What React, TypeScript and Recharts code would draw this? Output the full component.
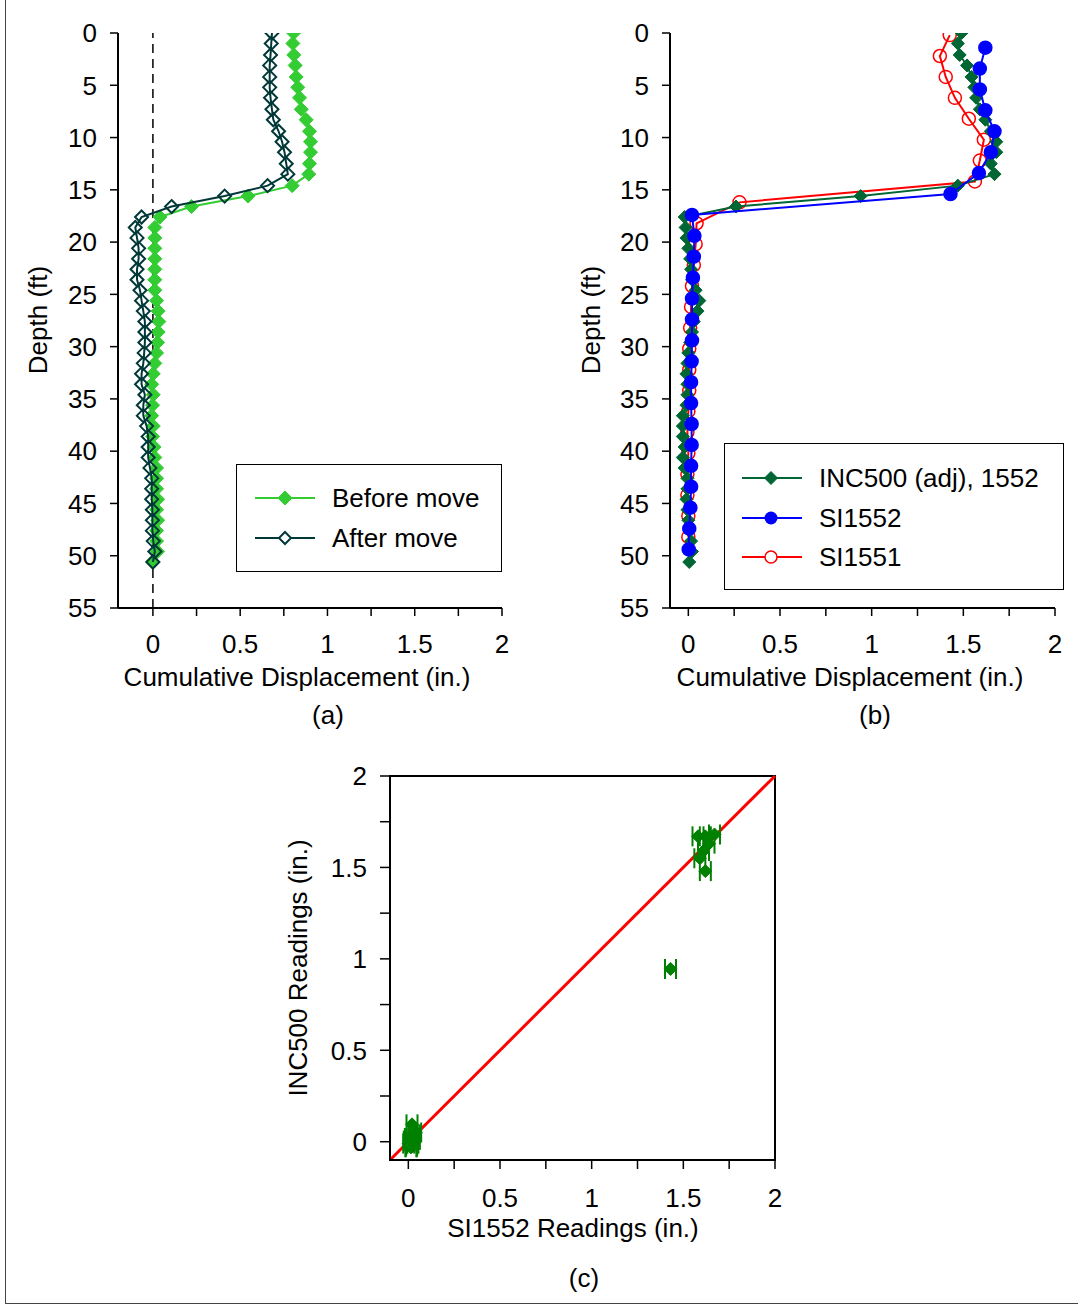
import React from 'react';
import {
  ScatterChart,
  Scatter,
  XAxis,
  YAxis,
  ReferenceLine,
  ReferenceArea,
  ErrorBar,
} from 'recharts';

// depth profiles, panel (a) and INC500 in (b)
const depthA = [0, 1, 2.1, 3.1, 4.2, 5.2, 6.2, 7.3, 8.3, 9.4, 10.4, 11.4, 12.5, 13.5, 14.6, 15.6, 16.6, 17.6, 18.6, 19.6, 20.6, 21.6, 22.6, 23.6, 24.6, 25.6, 26.6, 27.6, 28.6, 29.6, 30.6, 31.6, 32.6, 33.6, 34.6, 35.6, 36.6, 37.6, 38.6, 39.6, 40.6, 41.6, 42.6, 43.6, 44.6, 45.6, 46.6, 47.6, 48.6, 49.6, 50.6];
const beforeMove = [0.806, 0.802, 0.807, 0.815, 0.821, 0.83, 0.84, 0.85, 0.878, 0.897, 0.903, 0.903, 0.897, 0.893, 0.798, 0.545, 0.221, 0.04, 0.011, 0.011, 0.011, 0.011, 0.011, 0.011, 0.011, 0.021, 0.03, 0.034, 0.03, 0.027, 0.021, 0.011, 0.002, -0.007, 0.002, -0.002, -0.007, 0.002, -0.002, 0.007, 0.011, 0.021, 0.021, 0.021, 0.027, 0.021, 0.027, 0.021, 0.021, 0.027, -0.002];
const afterMove = [0.682, 0.678, 0.674, 0.669, 0.669, 0.669, 0.674, 0.682, 0.69, 0.72, 0.74, 0.754, 0.764, 0.773, 0.657, 0.411, 0.107, -0.065, -0.101, -0.091, -0.082, -0.082, -0.091, -0.091, -0.074, -0.065, -0.055, -0.046, -0.046, -0.046, -0.05, -0.055, -0.065, -0.065, -0.046, -0.055, -0.055, -0.036, -0.027, -0.027, -0.027, -0.017, -0.007, -0.007, -0.007, -0.003, -0.003, -0.003, 0.002, 0.011, 0.0];
const inc500 = [1.49, 1.47, 1.48, 1.52, 1.545, 1.56, 1.57, 1.59, 1.62, 1.65, 1.68, 1.68, 1.65, 1.67, 1.47, 0.94, 0.26, -0.02, -0.015, -0.01, 0.0, 0.01, 0.015, 0.02, 0.04, 0.06, 0.05, 0.03, 0.02, 0.01, 0.0, -0.005, -0.01, -0.005, -0.005, -0.01, -0.03, -0.03, -0.03, -0.02, -0.03, -0.02, -0.005, -0.005, -0.01, -0.005, 0.0, 0.005, 0.015, 0.02, 0.005];

// SI probes, 2 ft readings
const si1552Depth = [1.4, 3.4, 5.4, 7.4, 9.4, 11.4, 13.4, 15.4, 17.4, 19.4, 21.4, 23.4, 25.4, 27.4, 29.4, 31.4, 33.4, 35.4, 37.4, 39.4, 41.4, 43.4, 45.4, 47.4, 49.4];
const si1552 = [1.62, 1.59, 1.59, 1.62, 1.67, 1.65, 1.585, 1.43, 0.02, 0.033, 0.03, 0.025, 0.02, 0.02, 0.02, 0.018, 0.015, 0.015, 0.018, 0.018, 0.015, 0.015, 0.011, 0.005, 0.002];
const si1551Depth = [0.2, 2.2, 4.2, 6.2, 8.2, 10.2, 12.2, 14.2, 16.2, 18.2, 20.2, 22.2, 24.2, 26.2, 28.2, 30.2, 32.2, 34.2, 36.2, 38.2, 40.2, 42.2, 44.2, 46.2, 48.2];
const si1551 = [1.426, 1.372, 1.404, 1.454, 1.53, 1.612, 1.59, 1.563, 0.279, 0.045, 0.04, 0.03, 0.02, 0.015, 0.01, 0.005, 0.005, 0.005, 0.0, -0.005, 0.0, -0.005, -0.005, 0.0, 0.0];

// panel (c) comparison
const siReadings = [1.62, 1.59, 1.58, 1.62, 1.67, 1.64, 1.61, 1.43, 0.02, 0.033, 0.03, 0.04, 0.02, 0.02, 0.02, 0.018, 0.015, 0.015, 0.018, 0.025, 0.015, 0.015, 0.011, 0.005, 0.002];
const incReadings = [1.48, 1.55, 1.67, 1.67, 1.68, 1.63, 1.59, 0.945, 0.095, 0.01, 0.04, 0.05, 0.02, 0.0, -0.01, -0.02, -0.03, -0.03, -0.02, -0.01, 0.0, 0.01, 0.02, 0.005, -0.01];
const siError = [0.03, 0.03, 0.03, 0.03, 0.03, 0.03, 0.03, 0.03, 0.03, 0.03, 0.03, 0.03, 0.03, 0.03, 0.03, 0.03, 0.03, 0.03, 0.03, 0.03, 0.03, 0.03, 0.03, 0.03, 0.03];

const depthTicks = [0, 5, 10, 15, 20, 25, 30, 35, 40, 45, 50, 55];
const dispTicks = [0, 0.25, 0.5, 0.75, 1, 1.25, 1.5, 1.75, 2];
const readTicks = [0, 0.25, 0.5, 0.75, 1, 1.25, 1.5, 1.75, 2];

const FONT = "'Liberation Sans', Arial, sans-serif";
const BEFORE = '#33cc33';
const AFTER = '#003838';
const INC = '#006633';
const BLUE = '#0000ff';
const RED = '#ff0000';
const SCAT = '#008000';

const halfTicks = (v: number) => (Math.abs(v * 2 - Math.round(v * 2)) < 1e-9 ? String(v) : '');

const diamond = (stroke: string, fill: string, r: number, sw = 1.5) => (p: any) => {
  const { cx, cy } = p;
  if (cx == null || cy == null) return <g />;
  return (
    <path
      d={`M${cx},${cy - r}L${cx + r},${cy}L${cx},${cy + r}L${cx - r},${cy}Z`}
      fill={fill}
      stroke={stroke}
      strokeWidth={sw}
    />
  );
};

const circle = (stroke: string, fill: string, r: number) => (p: any) => {
  const { cx, cy } = p;
  if (cx == null || cy == null) return <g />;
  return <circle cx={cx} cy={cy} r={r} fill={fill} stroke={stroke} strokeWidth={1.5} />;
};

const pts = (xs: number[], ys: number[]) => xs.map((x, i) => ({ x, y: ys[i] }));

const tickStyle = { fontSize: 26, fill: '#000', fontFamily: FONT };
const axisLine = { stroke: '#000', strokeWidth: 2 };
const tickLine = { stroke: '#000', strokeWidth: 1.5 };

const Text: React.FC<{ x: number; y: number; rotate?: boolean; children: React.ReactNode }> = ({ x, y, rotate, children }) => (
  <div
    style={{
      position: 'absolute',
      left: x,
      top: y,
      transform: `translate(-50%, -50%)${rotate ? ' rotate(-90deg)' : ''}`,
      fontFamily: FONT,
      fontSize: 26,
      lineHeight: 1,
      whiteSpace: 'nowrap',
      color: '#000',
    }}
  >
    {children}
  </div>
);

const LegendRow: React.FC<{ x: number; y: number; label: string; color: string; marker: React.ReactNode }> = ({ x, y, label, color, marker }) => (
  <div style={{ position: 'absolute', left: x, top: y - 15, height: 30, display: 'flex', alignItems: 'center' }}>
    <svg width={62} height={30}>
      <line x1={1} y1={15} x2={61} y2={15} stroke={color} strokeWidth={2} />
      {marker}
    </svg>
    <span style={{ marginLeft: 16, fontFamily: FONT, fontSize: 26, color: '#000' }}>{label}</span>
  </div>
);

const dPath = (cx: number, cy: number, r: number) => `M${cx},${cy - r}L${cx + r},${cy}L${cx},${cy + r}L${cx - r},${cy}Z`;

const App: React.FC = () => {
  const beforeData = pts(beforeMove, depthA);
  const afterData = pts(afterMove, depthA);
  const incData = pts(inc500, depthA);
  const si2Data = pts(si1552, si1552Depth);
  const si1Data = pts(si1551, si1551Depth);
  const cmpData = siReadings.map((x, i) => ({ x, y: incReadings[i], ex: siError[i] }));

  return (
    <div style={{ position: 'absolute', left: 0, top: 0, width: 1078, height: 1307, background: '#fff', overflow: 'hidden' }}>
      {/* figure frame */}
      <div style={{ position: 'absolute', left: 5, top: -2, width: 1100, height: 1306, border: '1px solid #444', boxSizing: 'border-box' }} />

      {/* (a) */}
      <div style={{ position: 'absolute', left: 0, top: 0 }}>
        <ScatterChart width={540} height={700} margin={{ top: 33, right: 38, bottom: 52, left: 0 }}>
          <XAxis type="number" dataKey="x" domain={[-0.2, 2]} ticks={dispTicks} tickFormatter={halfTicks}
            allowDataOverflow height={40} tick={tickStyle} axisLine={axisLine} tickLine={tickLine} tickSize={8} tickMargin={19} />
          <YAxis type="number" dataKey="y" domain={[0, 55]} ticks={depthTicks} reversed allowDataOverflow
            width={118} tick={tickStyle} axisLine={axisLine} tickLine={tickLine} tickSize={8} tickMargin={13} />
          <ReferenceLine x={0} stroke="#000" strokeWidth={1.5} strokeDasharray="9 6" />
          <Scatter data={beforeData} fill={BEFORE} line={{ stroke: BEFORE, strokeWidth: 2 }} lineJointType="linear"
            shape={diamond(BEFORE, BEFORE, 7, 1)} isAnimationActive={false} />
          <Scatter data={afterData} fill={AFTER} line={{ stroke: AFTER, strokeWidth: 2 }} lineJointType="linear"
            shape={diamond(AFTER, 'none', 6.5, 2)} isAnimationActive={false} />
        </ScatterChart>
      </div>
      <div style={{ position: 'absolute', left: 236, top: 464, width: 266, height: 108, border: '1.5px solid #000', boxSizing: 'border-box' }} />
      <LegendRow x={254} y={498} label="Before move" color={BEFORE} marker={<path d={dPath(31, 15, 7)} fill={BEFORE} stroke={BEFORE} />} />
      <LegendRow x={254} y={538} label="After move" color={AFTER} marker={<path d={dPath(31, 15, 6)} fill="#fff" stroke={AFTER} strokeWidth={2} />} />
      <Text x={38} y={320} rotate>Depth (ft)</Text>
      <Text x={297} y={677}>Cumulative Displacement (in.)</Text>
      <Text x={328} y={715}>(a)</Text>

      {/* (b) */}
      <div style={{ position: 'absolute', left: 560, top: 0 }}>
        <ScatterChart width={518} height={700} margin={{ top: 33, right: 23, bottom: 52, left: 0 }}>
          <XAxis type="number" dataKey="x" domain={[-0.1, 2]} ticks={dispTicks} tickFormatter={halfTicks}
            allowDataOverflow height={40} tick={tickStyle} axisLine={axisLine} tickLine={tickLine} tickSize={8} tickMargin={19} />
          <YAxis type="number" dataKey="y" domain={[0, 55]} ticks={depthTicks} reversed allowDataOverflow
            width={110} tick={tickStyle} axisLine={axisLine} tickLine={tickLine} tickSize={8} tickMargin={13} />
          <Scatter data={si1Data} fill={RED} line={{ stroke: RED, strokeWidth: 2 }} lineJointType="linear"
            shape={circle(RED, 'none', 6.5)} isAnimationActive={false} />
          <Scatter data={incData} fill={INC} line={{ stroke: INC, strokeWidth: 2 }} lineJointType="linear"
            shape={diamond(INC, INC, 6.5, 1)} isAnimationActive={false} />
          <Scatter data={si2Data} fill={BLUE} line={{ stroke: BLUE, strokeWidth: 2 }} lineJointType="linear"
            shape={circle(BLUE, BLUE, 6.5)} isAnimationActive={false} />
        </ScatterChart>
      </div>
      <div style={{ position: 'absolute', left: 724, top: 443, width: 340, height: 147, border: '1.5px solid #000', boxSizing: 'border-box' }} />
      <LegendRow x={741} y={478} label="INC500 (adj), 1552" color={INC} marker={<path d={dPath(30, 15, 6.5)} fill={INC} stroke={INC} />} />
      <LegendRow x={741} y={518} label="SI1552" color={BLUE} marker={<circle cx={30} cy={15} r={6.5} fill={BLUE} />} />
      <LegendRow x={741} y={557} label="SI1551" color={RED} marker={<circle cx={30} cy={15} r={6} fill="#fff" stroke={RED} strokeWidth={1.5} />} />
      <Text x={591} y={320} rotate>Depth (ft)</Text>
      <Text x={850} y={677}>Cumulative Displacement (in.)</Text>
      <Text x={875} y={715}>(b)</Text>

      {/* (c) */}
      <div style={{ position: 'absolute', left: 260, top: 740 }}>
        <ScatterChart width={540} height={480} margin={{ top: 36, right: 25, bottom: 20, left: 0 }}>
          <XAxis type="number" dataKey="x" domain={[-0.1, 2]} ticks={readTicks} tickFormatter={halfTicks}
            allowDataOverflow height={40} tick={tickStyle} axisLine={axisLine} tickLine={tickLine} tickSize={9} tickMargin={20} />
          <YAxis type="number" dataKey="y" domain={[-0.1, 2]} ticks={readTicks} tickFormatter={halfTicks} allowDataOverflow
            width={130} tick={tickStyle} axisLine={axisLine} tickLine={tickLine} tickSize={10} tickMargin={13} />
          <ReferenceArea x1={-0.1} x2={2} y1={-0.1} y2={2} fill="none" stroke="#000" strokeWidth={2} ifOverflow="visible" />
          <ReferenceLine segment={[{ x: -0.1, y: -0.1 }, { x: 2, y: 2 }]} stroke={RED} strokeWidth={3} ifOverflow="visible" />
          <Scatter data={cmpData} fill={SCAT} shape={diamond(SCAT, SCAT, 6.5, 1)} isAnimationActive={false}>
            <ErrorBar dataKey="ex" direction="x" width={10} stroke={SCAT} strokeWidth={2} />
          </Scatter>
        </ScatterChart>
      </div>
      <Text x={298} y={968} rotate>INC500 Readings (in.)</Text>
      <Text x={573} y={1228}>SI1552 Readings (in.)</Text>
      <Text x={584} y={1278}>(c)</Text>
    </div>
  );
};

export default App;
